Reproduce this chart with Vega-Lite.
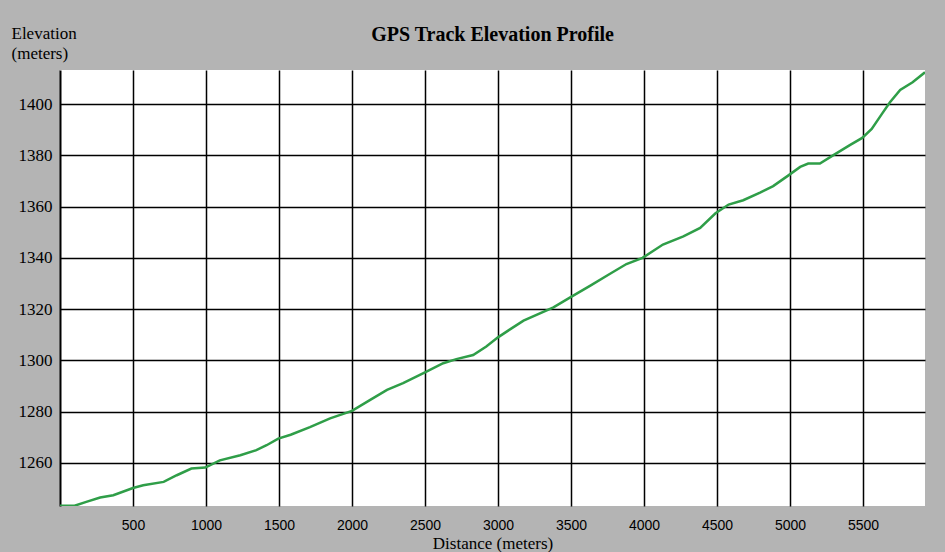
{
  "$schema": "https://vega.github.io/schema/vega-lite/v6.json",
  "width": 865,
  "height": 436,
  "autosize": {"type": "none"},
  "padding": {"left": 60, "top": 70, "right": 20, "bottom": 46},
  "background": "#b4b4b4",
  "title": {
    "text": "GPS Track Elevation Profile",
    "font": "Liberation Serif",
    "fontSize": 20,
    "fontWeight": "bold",
    "color": "#000000",
    "anchor": "middle",
    "baseline": "bottom",
    "offset": -41
  },
  "config": {
    "view": {"stroke": null, "fill": "#ffffff"}
  },
  "data": {
    "values": [
      {"distance": 0, "elevation": 1243.3},
      {"distance": 100, "elevation": 1243.3},
      {"distance": 180, "elevation": 1244.8},
      {"distance": 275, "elevation": 1246.5},
      {"distance": 365, "elevation": 1247.4},
      {"distance": 500, "elevation": 1250.2},
      {"distance": 570, "elevation": 1251.3},
      {"distance": 710, "elevation": 1252.6},
      {"distance": 800, "elevation": 1255.2},
      {"distance": 900, "elevation": 1257.8},
      {"distance": 995, "elevation": 1258.2},
      {"distance": 1095, "elevation": 1261.0},
      {"distance": 1235, "elevation": 1263.0},
      {"distance": 1345, "elevation": 1265.0},
      {"distance": 1415, "elevation": 1266.9},
      {"distance": 1495, "elevation": 1269.5},
      {"distance": 1580, "elevation": 1271.0},
      {"distance": 1712, "elevation": 1274.0},
      {"distance": 1850, "elevation": 1277.4},
      {"distance": 2000, "elevation": 1280.3},
      {"distance": 2125, "elevation": 1284.6},
      {"distance": 2240, "elevation": 1288.5},
      {"distance": 2350, "elevation": 1291.1},
      {"distance": 2500, "elevation": 1295.3},
      {"distance": 2625, "elevation": 1298.9},
      {"distance": 2715, "elevation": 1300.5},
      {"distance": 2830, "elevation": 1302.1},
      {"distance": 2920, "elevation": 1305.4},
      {"distance": 3000, "elevation": 1309.0},
      {"distance": 3085, "elevation": 1312.2},
      {"distance": 3175, "elevation": 1315.5},
      {"distance": 3380, "elevation": 1320.7},
      {"distance": 3495, "elevation": 1324.6},
      {"distance": 3630, "elevation": 1329.1},
      {"distance": 3765, "elevation": 1333.7},
      {"distance": 3880, "elevation": 1337.6},
      {"distance": 3990, "elevation": 1340.0},
      {"distance": 4130, "elevation": 1345.2},
      {"distance": 4270, "elevation": 1348.4},
      {"distance": 4385, "elevation": 1351.7},
      {"distance": 4490, "elevation": 1357.4},
      {"distance": 4580, "elevation": 1360.8},
      {"distance": 4680, "elevation": 1362.5},
      {"distance": 4795, "elevation": 1365.5},
      {"distance": 4885, "elevation": 1368.0},
      {"distance": 4985, "elevation": 1372.0},
      {"distance": 5070, "elevation": 1375.5},
      {"distance": 5125, "elevation": 1376.8},
      {"distance": 5205, "elevation": 1376.8},
      {"distance": 5295, "elevation": 1380.0},
      {"distance": 5410, "elevation": 1384.0},
      {"distance": 5495, "elevation": 1386.8},
      {"distance": 5560, "elevation": 1390.3},
      {"distance": 5630, "elevation": 1396.2},
      {"distance": 5685, "elevation": 1400.7},
      {"distance": 5755, "elevation": 1405.5},
      {"distance": 5840, "elevation": 1408.5},
      {"distance": 5925, "elevation": 1412.4}
    ]
  },
  "mark": {"type": "line", "color": "#2f9e48", "strokeWidth": 2.5, "clip": true},
  "encoding": {
    "x": {
      "field": "distance",
      "type": "quantitative",
      "scale": {"domain": [0, 5925], "nice": false, "zero": false},
      "axis": {
        "title": "Distance (meters)",
        "titleFont": "Liberation Serif",
        "titleFontSize": 17,
        "titleFontWeight": "normal",
        "titleColor": "#000000",
        "titleBaseline": "alphabetic",
        "titleY": 42,
        "values": [500, 1000, 1500, 2000, 2500, 3000, 3500, 4000, 4500, 5000, 5500],
        "format": "d",
        "labelFont": "Liberation Sans",
        "labelFontSize": 14,
        "labelColor": "#000000",
        "labelPadding": 12,
        "labelBaseline": "top",
        "ticks": false,
        "domain": false,
        "grid": true,
        "gridColor": "#000000",
        "gridOpacity": 1,
        "gridWidth": 1.5
      }
    },
    "y": {
      "field": "elevation",
      "type": "quantitative",
      "scale": {"domain": [1243.2, 1413.3], "nice": false, "zero": false},
      "axis": {
        "title": ["Elevation", "(meters)"],
        "titleFont": "Liberation Serif",
        "titleFontSize": 17,
        "titleFontWeight": "normal",
        "titleColor": "#000000",
        "titleAngle": 0,
        "titleAlign": "left",
        "titleBaseline": "top",
        "titleLineHeight": 20,
        "titleX": -49,
        "titleY": -45,
        "values": [1260, 1280, 1300, 1320, 1340, 1360, 1380, 1400],
        "format": "d",
        "labelFont": "Liberation Serif",
        "labelFontSize": 17,
        "labelColor": "#000000",
        "labelPadding": 8,
        "ticks": false,
        "domain": true,
        "domainColor": "#000000",
        "domainWidth": 2,
        "grid": true,
        "gridColor": "#000000",
        "gridOpacity": 1,
        "gridWidth": 1.5
      }
    }
  }
}
